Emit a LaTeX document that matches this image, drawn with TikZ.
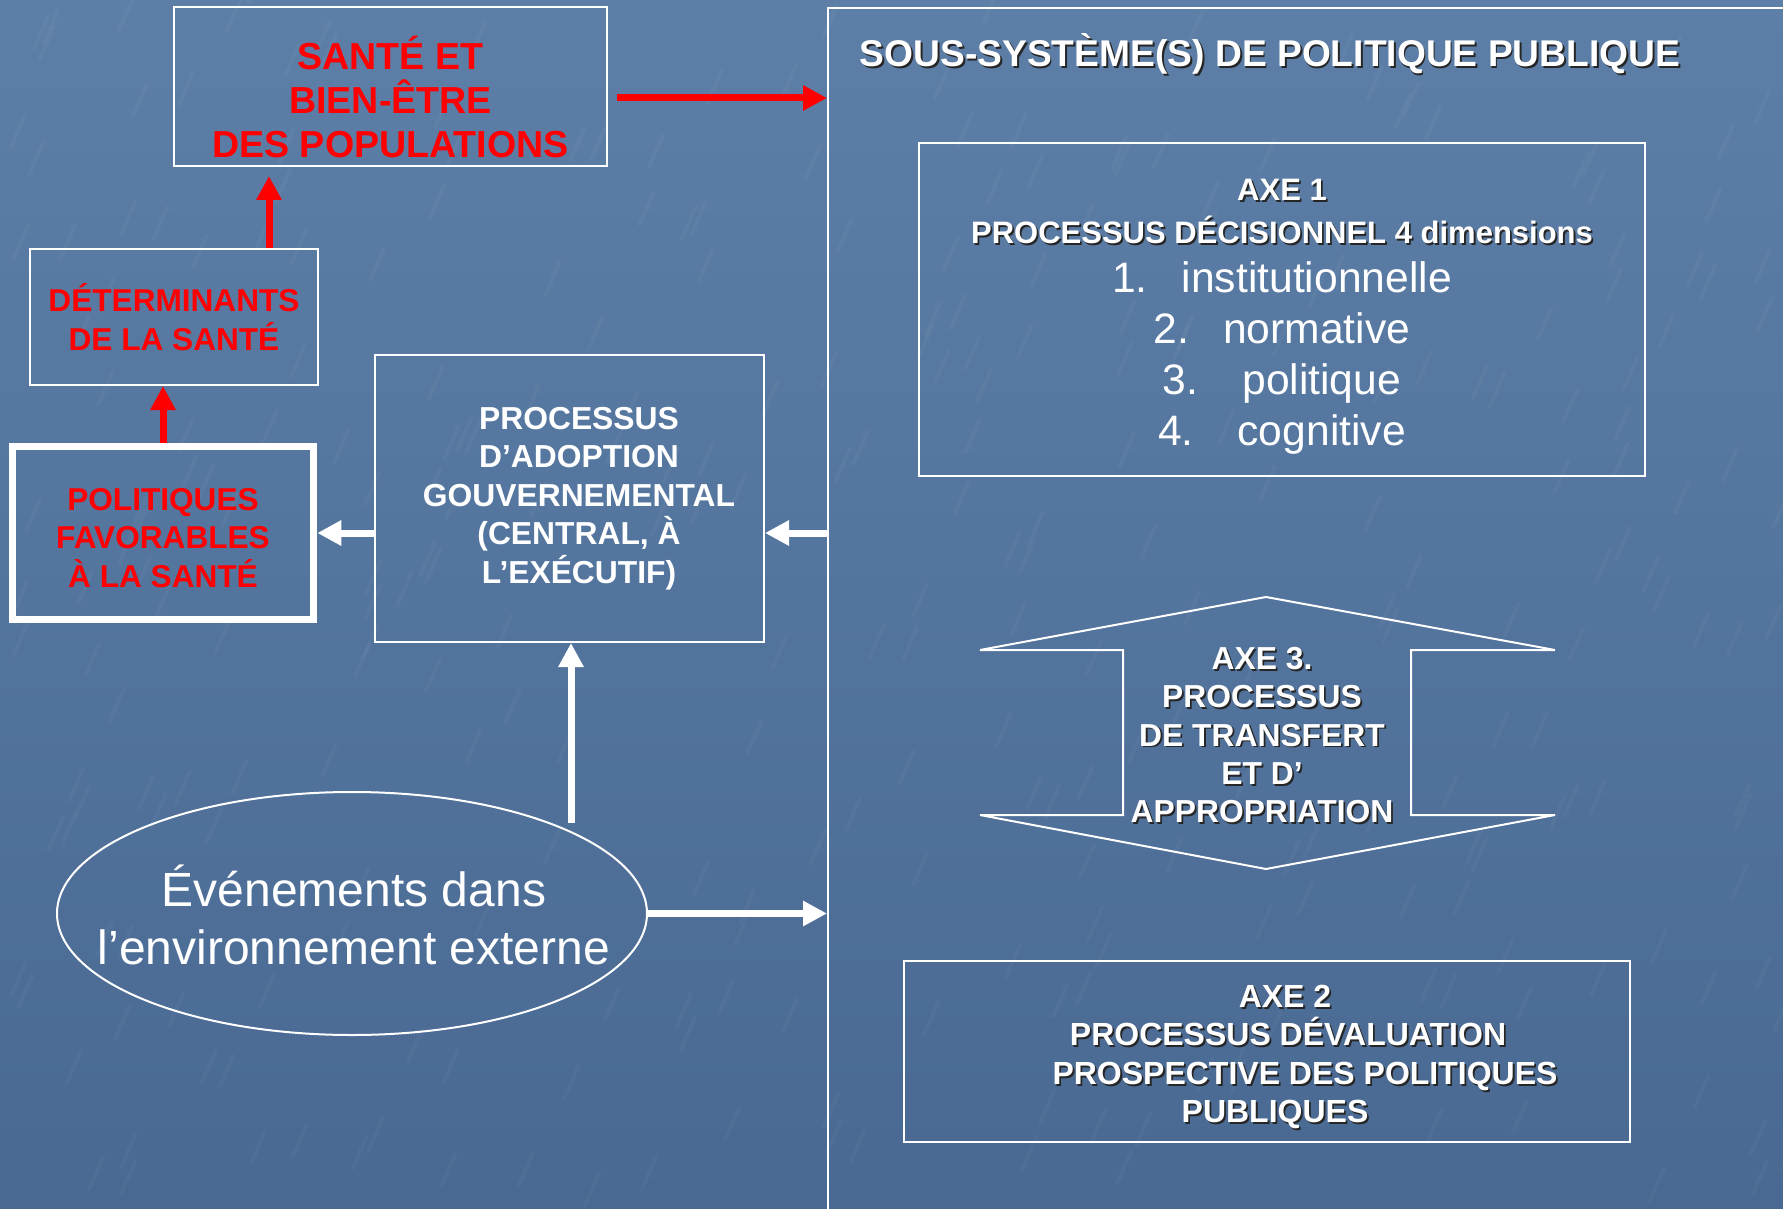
\documentclass[tikz,border=0pt]{standalone}
\usepackage{fontspec}
\setmainfont{Liberation Sans}
\usepackage{tikz}
\usetikzlibrary{arrows.meta,shapes.geometric}

\definecolor{slatetop}{RGB}{93,127,167}
\definecolor{slatemid}{RGB}{85,118,158}
\definecolor{slatebot}{RGB}{73,105,146}

\newcommand{\shd}[1]{\leavevmode\rlap{\kern0.9pt\raisebox{-0.9pt}{\color{black!85}#1}}#1}
\newcommand{\axeitem}[3]{{\fontsize{21.3}{25.5}\selectfont\mdseries #1.\hspace{#2}#3}}

\begin{document}
\begin{tikzpicture}
[
  x=0.5pt, y=-0.5pt,
  box/.style={draw=white, line width=1pt, inner sep=0pt, align=center, text=white},
  redtext/.style={text=red, font=\fontsize{15.8}{19.3}\selectfont\bfseries, align=center},
  whitetext/.style={text=white, font=\fontsize{15.9}{19.2}\selectfont\bfseries, align=center},
  redarrow/.style={red, line width=3.5pt, -{Triangle[length=12pt,width=12pt]}},
  whitearrow/.style={white, line width=3.5pt, -{Triangle[length=12pt,width=12pt]}}
]

\useasboundingbox (0,0) rectangle (1783,1209);
\shade[top color=slatetop, middle color=slatemid, bottom color=slatebot] (0,0) rectangle (1783,1209);

% streaks
\pgfmathsetseed{42}
\foreach \k in {1,...,300}
{
  \pgfmathsetmacro{\sx}{rnd*1783}
  \pgfmathsetmacro{\sy}{rnd*1209}
  \draw[white, opacity=0.03, line width=2pt, line cap=round] (\sx,\sy) -- ++(14,-32);
}

% left side
\node[box, minimum width=216.5pt, minimum height=79.5pt] (sante) at (390.5,86.5) {};
\node[text=red, font=\fontsize{18.8}{21.8}\selectfont\bfseries, align=center] (santetext) at (390.5,97) {SANTÉ ET\\BIEN-ÊTRE\\DES POPULATIONS};

\node[box, redtext, minimum width=143.7pt, minimum height=68pt] (det) at (174,317) {DÉTERMINANTS\\DE LA SANTÉ};
\node[box, line width=3.7pt, minimum width=150.6pt, minimum height=86.3pt] (pol) at (163,533) {};
\node[redtext] (poltext) at (163,538) {POLITIQUES\\FAVORABLES\\À LA SANTÉ};

\node[box, minimum width=194.5pt, minimum height=143.5pt] (proc) at (569.5,498.5) {};
\node[whitetext] (proctext) at (579,498.5) {PROCESSUS\\D’ADOPTION\\GOUVERNEMENTAL\\(CENTRAL, À\\L’EXÉCUTIF)};

\node[box, ellipse, minimum width=295pt, minimum height=121.5pt] (ev) at (352,913.5) {};
\node[text=white, font=\fontsize{24}{29}\selectfont, align=center] (evtext) at (354,915) {Événements dans\\l’environnement externe};

% right side
\node[box, minimum width=486pt, minimum height=611pt] (sys) at (1314,619) {};
\node[text=white, font=\fontsize{18.6}{22}\selectfont\bfseries] (systitle) at (1270,55) {\shd{SOUS-SYSTÈME(S) DE POLITIQUE PUBLIQUE}};

\node[box, minimum width=363pt, minimum height=166pt] (axe1) at (1282,309.5) {};
\node[text=white, font=\fontsize{15.5}{21.5}\selectfont\bfseries, align=center] (axe1text) at (1282,317)
{\shd{AXE 1}\\
\shd{PROCESSUS DÉCISIONNEL 4 dimensions}\\[3pt]
\axeitem{1}{17pt}{institutionnelle}\\[4pt]
\axeitem{2}{17pt}{normative}\\[4pt]
\axeitem{3}{22pt}{politique}\\[4pt]
\axeitem{4}{22pt}{cognitive}};

\draw[white, line width=1pt] (1266,597) -- (1555,650) -- (1411,650) -- (1411,815) -- (1555,815) -- (1266,869)
  -- (980,815) -- (1123,815) -- (1123,650) -- (980,650) -- cycle;
\node[whitetext] (axe3) at (1262,736) {\shd{AXE 3.}\\\shd{PROCESSUS}\\\shd{DE TRANSFERT}\\\shd{ET D’}\\\shd{APPROPRIATION}};

\node[box, minimum width=363pt, minimum height=90.5pt] (axe2) at (1267,1051) {};
\node[text=white, font=\fontsize{16}{19.2}\selectfont\bfseries, align=center] (axe2text) at (1267,1058)
{\hspace*{18pt}\shd{AXE 2}\\
\hspace*{21pt}\shd{PROCESSUS DÉVALUATION}\\
\hspace*{38pt}\shd{PROSPECTIVE DES POLITIQUES}\\
\hspace*{8pt}\shd{PUBLIQUES}};

% arrows
\coordinate (santeout) at (617,98);
\coordinate (redup) at (269,0);
\coordinate (evup) at (571,823);

\path[redarrow]
(santeout) edge (santeout -| sys.west)
(redup |- det.north) edge[shorten >=4.5pt] (redup |- sante.south)
(pol.north) edge (pol.north |- det.south);

\path[whitearrow]
(sys.west |- pol.center) edge (proc.east |- pol.center)
(proc.west |- pol.center) edge (pol.east)
(evup) edge (evup |- proc.south)
(ev.east) edge (ev.east -| sys.west);

\end{tikzpicture}
\end{document}
